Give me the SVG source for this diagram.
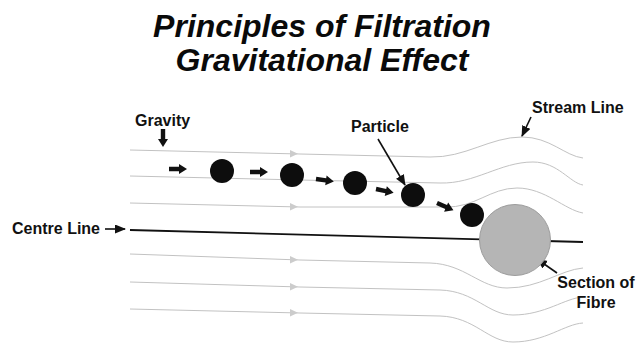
<svg xmlns="http://www.w3.org/2000/svg" width="636" height="355" viewBox="0 0 636 355">
<style>
.lbl{font-family:"Liberation Sans",Arial,sans-serif;font-weight:bold;font-size:16px;fill:#111}
.title{font-family:"Liberation Sans",Arial,sans-serif;font-weight:bold;font-style:italic;font-size:32px;fill:#0a0a0a}
.stream{fill:none;stroke:#c2c2c2;stroke-width:1}
.tri{fill:#cccccc}
.ptr{fill:none;stroke:#111;stroke-width:1.6}
.blk{fill:#111}
.particle{fill:#0d0d0d}
</style>
<defs>
<marker id="ah" markerUnits="userSpaceOnUse" markerWidth="12" markerHeight="10" refX="10" refY="4.5" orient="auto">
<path d="M0,0 L11,4.5 L0,9 Z" fill="#111"/>
</marker>
<path id="barrow" d="M0,-2.2 L10,-2.2 L10,-5 L18,0 L10,5 L10,2.2 L0,2.2 Z"/>
</defs>
<rect width="636" height="355" fill="#ffffff"/>
<g id="title">
<text class="title" x="322" y="37" text-anchor="middle">Principles of Filtration</text>
<text class="title" x="322" y="71" text-anchor="middle">Gravitational Effect</text>
</g>
<g id="connectors">
<path class="stream" d="M130,150 L300,154 L430,157 C465,158 490,137 522,137 C550,137 565,156 583,158"/>
<path class="stream" d="M130,176 L300,180 L440,183 C475,184 500,162 533,162 C558,162 570,183 583,185"/>
<path class="stream" d="M130,203 L300,207 L445,207 C475,208 490,188 517,188 C545,188 565,210 583,213"/>
<path class="stream" d="M130,254 L300,260 L430,263 C465,264 480,288 507,288 C540,288 560,270 583,268"/>
<path class="stream" d="M130,282 L300,287 L440,290 C475,291 488,315 513,315 C545,315 565,298 583,297"/>
<path class="stream" d="M130,309 L300,313 L440,316 C475,317 488,342 513,342 C545,342 565,324 583,323"/>
<polygon class="tri" points="290,150 298,153.8 290,157.6"/>
<polygon class="tri" points="290,176 298,179.8 290,183.6"/>
<polygon class="tri" points="290,203 298,206.8 290,210.6"/>
<polygon class="tri" points="290,256 298,259.8 290,263.6"/>
<polygon class="tri" points="290,283 298,286.8 290,290.6"/>
<polygon class="tri" points="290,309 298,312.8 290,316.6"/>
<path d="M130,230 L583,242" fill="none" stroke="#111" stroke-width="1.8"/>
<use href="#barrow" class="blk" transform="translate(163,129) rotate(90)"/>
<use href="#barrow" class="blk" transform="translate(169,169)"/>
<use href="#barrow" class="blk" transform="translate(250,172)"/>
<use href="#barrow" class="blk" transform="translate(316,179) rotate(8)"/>
<use href="#barrow" class="blk" transform="translate(376,189) rotate(12)"/>
<use href="#barrow" class="blk" transform="translate(437,203) rotate(24)"/>
<line class="ptr" x1="105" y1="229" x2="125" y2="229" marker-end="url(#ah)"/>
<line class="ptr" x1="378" y1="139" x2="405" y2="185" marker-end="url(#ah)"/>
<line class="ptr" x1="531" y1="117" x2="522" y2="136" stroke-width="2" marker-end="url(#ah)"/>
<line class="ptr" x1="557" y1="273" x2="537" y2="259" stroke-width="2" marker-end="url(#ah)"/>
</g>
<g id="fibre">
<circle cx="515" cy="240" r="35.5" fill="#b5b5b5" stroke="#9c9c9c" stroke-width="1"/>
</g>
<g id="particles">
<circle class="particle" cx="222" cy="171" r="12"/>
<circle class="particle" cx="292" cy="175" r="12"/>
<circle class="particle" cx="355" cy="183" r="12"/>
<circle class="particle" cx="413" cy="195" r="12"/>
<circle class="particle" cx="472" cy="215" r="12"/>
</g>
<g id="label-gravity"><text class="lbl" x="135" y="126">Gravity</text></g>
<g id="label-particle"><text class="lbl" x="351" y="132">Particle</text></g>
<g id="label-stream"><text class="lbl" x="532" y="113">Stream Line</text></g>
<g id="label-centre"><text class="lbl" x="12" y="234">Centre Line</text></g>
<g id="label-fibre">
<text class="lbl" x="596" y="288" text-anchor="middle">Section of</text>
<text class="lbl" x="596" y="308" text-anchor="middle">Fibre</text>
</g>
</svg>
